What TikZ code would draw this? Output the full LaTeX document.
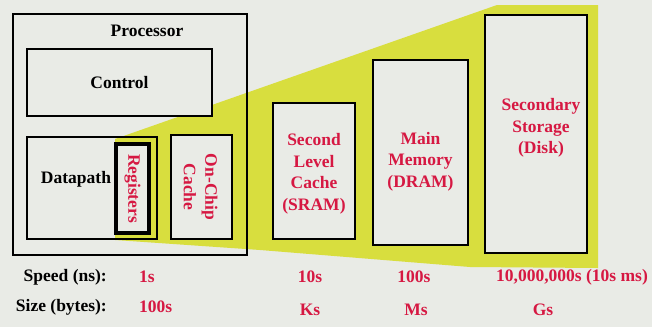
\documentclass[tikz,border=0pt]{standalone}
\usepackage{fontspec}
\setmainfont{Liberation Serif}
\usetikzlibrary{positioning, calc, backgrounds}
\definecolor{bgray}{RGB}{233,235,230}
\definecolor{hlyellow}{RGB}{216,222,62}
\definecolor{labred}{RGB}{214,24,66}

\begin{document}
\begin{tikzpicture}[
    x=1pt, y=-1pt,
    box/.style={rectangle, draw=black, line width=2.6pt, fill=bgray, inner sep=0pt},
    txt/.style={font=\fontsize{17.5}{21.5}\selectfont\bfseries, text=black, align=center, inner sep=0pt},
    redtxt/.style={txt, text=labred}
]

% Background and yellow band
\fill[bgray] (0,0) rectangle (652,327);
\useasboundingbox (0,0) rectangle (652,327);
\fill[hlyellow] (115,139) -- (497,5) -- (598,5) -- (598,268) -- (470,267) -- (260,250) -- (115,240) -- cycle;

% Processor
\node[box, fill=none, minimum width=234pt, minimum height=241pt] (proc) at (130,134.5) {};
\node[txt] (proclbl) at (147,31) {Processor};
\node[box, minimum width=185pt, minimum height=67pt] (ctrl) at (119.5,82.5) {};
\node[txt] at (ctrl.center) {Control};
\node[box, fill=none, minimum width=130pt, minimum height=102pt] (dpath) at (92,188) {};
\node[txt] (dpathlbl) at (76,179) {Datapath};
\node[box, line width=3.4pt, minimum width=33pt, minimum height=89pt] (regs) at (132.5,188.5) {};
\node[redtxt, rotate=-90] at (regs.center) {Registers};
\node[box, minimum width=61pt, minimum height=104pt] (onchip) at (201.5,187) {};
\node[redtxt, rotate=-90] at ([xshift=-1pt]onchip.center) {On-Chip\\Cache};

% Memory levels
\node[box, minimum width=82pt, minimum height=136pt] (ltwo) at (314,171) {};
\node[redtxt] at ([yshift=-3pt]ltwo.center) {Second\\Level\\Cache\\(SRAM)};
\node[box, minimum width=95pt, minimum height=185pt] (mem) at (420.5,152.5) {};
\node[redtxt] at ([yshift=-9pt]mem.center) {Main\\Memory\\(DRAM)};
\node[box, minimum width=102pt, minimum height=238pt] (disk) at (536,134) {};
\node[redtxt] at ([xshift=5pt,yshift=6pt]disk.center) {Secondary\\Storage\\(Disk)};

% Speed and size rows
\node[txt, anchor=east] (speed) at (107,277) {Speed (ns):};
\node[txt, anchor=east] (size) at (107,307) {Size (bytes):};
\node[redtxt, anchor=west] (sregs) at (139,277) {1s};
\node[redtxt, anchor=west] (zregs) at (139,307) {100s};
\node[redtxt] (sltwo) at (310,277) {10s};
\node[redtxt] (zltwo) at (310,310) {Ks};
\node[redtxt] (smem) at (414,277) {100s};
\node[redtxt] (zmem) at (416,310) {Ms};
\node[redtxt] (sdisk) at (572,277) {10,000,000s (10s ms)};
\node[redtxt] (zdisk) at (543,310) {Gs};

\end{tikzpicture}
\end{document}
